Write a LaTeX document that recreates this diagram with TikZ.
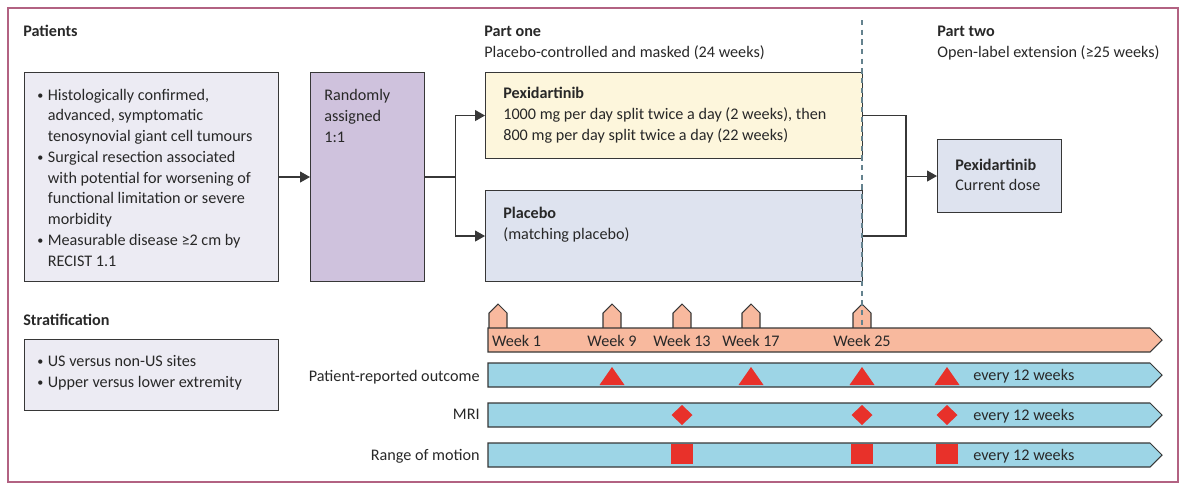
\documentclass[tikz,border=0pt]{standalone}
\usepackage{fontspec}
\setmainfont{Carlito}
\usetikzlibrary{arrows.meta, positioning, calc}
\definecolor{lancetframe}{RGB}{178,98,130}
\definecolor{boxline}{RGB}{55,55,55}
\definecolor{inkgrey}{RGB}{40,40,40}
\definecolor{patientfill}{RGB}{236,235,243}
\definecolor{randomfill}{RGB}{207,194,221}
\definecolor{pexifill}{RGB}{253,246,220}
\definecolor{placebofill}{RGB}{222,227,239}
\definecolor{weekfill}{RGB}{248,185,158}
\definecolor{visitfill}{RGB}{157,213,230}
\definecolor{markred}{RGB}{232,49,42}
\definecolor{splitline}{RGB}{100,130,142}
\newcommand{\figfont}{\fontsize{9.2}{11.8}\selectfont}
\newcommand{\bul}{\makebox[0.21cm][l]{\raisebox{0.05ex}{\scalebox{0.75}{\textbullet}}}}
\newcommand{\ind}{\hspace*{0.21cm}}
\tikzset{
  trialbox/.style={draw=boxline, line width=0.6pt, anchor=north west, inner sep=0pt},
  txt/.style={anchor=base west, inner sep=0pt},
  hdr/.style={txt, font={\figfont\bfseries}},
  rowlabel/.style={anchor=base east, inner sep=0pt},
  armline/.style={draw=boxline, line width=0.6pt},
  armarrow/.style={armline, -{Triangle[length=0.2cm, width=0.22cm]}},
  timebar/.style={draw=boxline, line width=0.6pt}
}
\begin{document}
\begin{tikzpicture}[x=0.02cm, y=-0.02cm, font=\figfont, text=inkgrey]
\useasboundingbox (0,0) rectangle (1187,491);
\draw[color=lancetframe, line width=0.8pt] (8,8) rectangle (1178,482);

% headings
\node[hdr] (pattitle) at (23,36.5) {Patients};
\node[hdr] (onetitle) at (484,36.5) {Part one};
\node[txt] (onesub) at (484,57) {Placebo-controlled and masked (24 weeks)};
\node[hdr] (twotitle) at (937,36.5) {Part two};
\node[txt] (twosub) at (937,57) {Open-label extension (≥25 weeks)};
\node[hdr] (strattitle) at (23,325) {Stratification};

% boxes
\node[trialbox, fill=patientfill, minimum width=5.08cm, minimum height=4.18cm] (patients) at (24,72) {};
\node[trialbox, fill=randomfill, minimum width=2.28cm, minimum height=4.18cm] (random) at (310,72) {};
\node[trialbox, fill=pexifill, minimum width=7.54cm, minimum height=1.72cm] (pex) at (485,72) {};
\node[trialbox, fill=placebofill, minimum width=7.54cm, minimum height=1.82cm] (placebo) at (485,190) {};
\node[trialbox, fill=placebofill, minimum width=2.48cm, minimum height=1.46cm] (ext) at (937,139) {};
\node[trialbox, fill=patientfill, minimum width=5.08cm, minimum height=1.42cm] (strat) at (24,339) {};

% box texts (multi-line nodes sit on their last baseline)
\node[txt, align=left] (patlist) at (37,266) {\bul Histologically confirmed,\\
  \ind advanced, symptomatic\\
  \ind tenosynovial giant cell tumours\\
  \bul Surgical resection associated\\
  \ind with potential for worsening of\\
  \ind functional limitation or severe\\
  \ind morbidity\\
  \bul Measurable disease ≥2 cm by\\
  \ind RECIST 1.1};
\node[txt, align=left] (randtext) at (324,142) {Randomly\\assigned\\1:1};
\node[hdr] (pexname) at (503,98) {Pexidartinib};
\node[txt, align=left] (pexdose) at (503,140) {1000 mg per day split twice a day (2 weeks), then\\
  800 mg per day split twice a day (22 weeks)};
\node[hdr] (placname) at (503,218) {Placebo};
\node[txt] (placdose) at (503,239) {(matching placebo)};
\node[hdr] (extname) at (955,170.7) {Pexidartinib};
\node[txt] (extdose) at (955,190.7) {Current dose};
\node[txt, align=left] (stratlist) at (37,387) {\bul US versus non-US sites\\
  \bul Upper versus lower extremity};

% connectors
\draw[armarrow] (patients.east) -- (random.west);
\draw[armline] (random.east) -- ++(30,0) coordinate (split);
\draw[armarrow] (split) |- (pex.west);
\draw[armarrow] (split) |- (placebo.west);
\path (ext.west) ++(-31,0) coordinate (merge);
\draw[armline] (pex.east) -| (merge);
\draw[armline] (placebo.east) -| (merge);
\draw[armarrow] (merge) -- (ext.west);

% visit weeks
\foreach \w in {498,612,682,751,862}
  \draw[timebar, fill=weekfill] (\w-9,328) -- (\w-9,313) -- (\w,304) -- (\w+9,313) -- (\w+9,328);
\draw[splitline, line width=0.6pt, dash pattern=on 3pt off 2.5pt] (862,20) -- (862,328);
\draw[timebar, fill=weekfill] (488,328) -- (1150,328) -- (1162,340) -- (1150,352) -- (488,352) -- cycle;
\foreach \t in {363,403,443}
  \draw[timebar, fill=visitfill] (488,\t) -- (1150,\t) -- (1162,\t+12) -- (1150,\t+24) -- (488,\t+24) -- cycle;

\node[txt] (wk1) at (491.7,346.7) {Week 1};
\foreach \w/\n in {612/9, 682/13, 751/17, 862/25}
  \node[anchor=base, inner sep=0pt] (wk\n) at (\w,346.7) {Week \n};

% assessments
\node[rowlabel] (prolabel) at (480,381) {Patient-reported outcome};
\node[rowlabel] (mrilabel) at (480,419.3) {MRI};
\node[rowlabel] (romlabel) at (480,460) {Range of motion};
\foreach \b/\n in {380.7/pro, 420.7/mri, 460.7/rom}
  \node[txt] (every\n) at (973,\b) {every 12 weeks};

\foreach \m in {612,751,862,947}
  \fill[markred] (\m-12.5,385) -- (\m,367) -- (\m+12.5,385) -- cycle;
\foreach \m in {682,862,947}
  \fill[markred] (\m-10.5,415) -- (\m,405) -- (\m+10.5,415) -- (\m,425) -- cycle;
\foreach \m in {682,862,947}
  \fill[markred] (\m-11,444) rectangle (\m+11,464);
\end{tikzpicture}
\end{document}
